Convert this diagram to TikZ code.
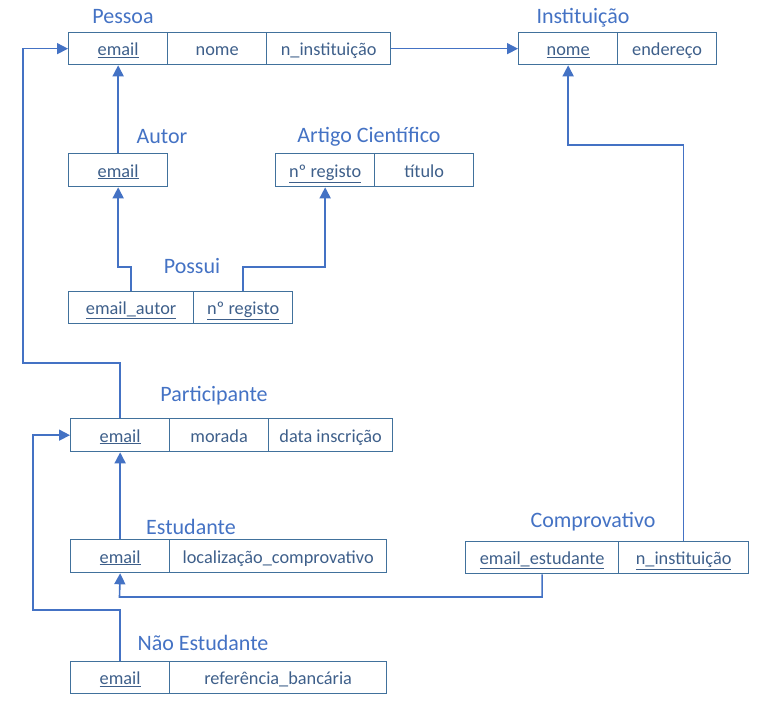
\documentclass[tikz,border=0pt]{standalone}
\usepackage{fontspec}
\setmainfont{Carlito}
\usetikzlibrary{arrows.meta}
\definecolor{linec}{HTML}{4472C4}
\definecolor{boxc}{HTML}{41719C}
\definecolor{txtc}{HTML}{3E5F8A}
\definecolor{titc}{HTML}{4472C4}
\tikzset{
  cell/.style={draw=boxc, line width=1.3pt, minimum height=32pt, inner sep=0pt,
    text height=16pt, text depth=2pt,
    anchor=north west, text=txtc, font=\fontsize{18.3}{20}\selectfont},
  ttl/.style={text=titc, font=\fontsize{22}{24}\selectfont, inner sep=0pt},
  arr/.style={draw=linec, line width=1.6pt, -{Triangle[width=11pt,length=11pt]}},
  ln/.style={draw=linec, line width=1.6pt}
}
\newcommand{\ul}[1]{\underline{#1}}
\begin{document}
\begin{tikzpicture}[x=1pt,y=-1pt]
\useasboundingbox (0,0) rectangle (769,705);
% Pessoa
\node[ttl] (tp) at (123,17) {Pessoa};
\node[cell,minimum width=99pt] (p1) at (68,32) {\ul{email}};
\node[cell,minimum width=99pt] (p2) at (167,32) {nome};
\node[cell,minimum width=124pt] (p3) at (266,32) {n\_instituição};
% Instituicao
\node[ttl] (ti) at (583,18) {Instituição};
\node[cell,minimum width=99pt] (i1) at (518,32) {\ul{nome}};
\node[cell,minimum width=99pt] (i2) at (617,32) {endereço};
% Autor
\node[ttl] (ta) at (162,137) {Autor};
\node[cell,minimum width=99pt,minimum height=33pt] (a1) at (68,153) {\ul{email}};
% Artigo
\node[ttl] (tc) at (369,137) {Artigo Científico};
\node[cell,minimum width=99pt,minimum height=33pt] (c1) at (275,153) {\ul{nº registo}};
\node[cell,minimum width=99pt,minimum height=33pt] (c2) at (374,153) {título};
% Possui
\node[ttl] (ts) at (192,266) {Possui};
\node[cell,minimum width=125pt] (s1) at (68,291) {\ul{email\_autor}};
\node[cell,minimum width=99pt] (s2) at (193,291) {\ul{nº registo}};
% Participante
\node[ttl] (tt) at (214,396) {Participante};
\node[cell,minimum width=99pt,minimum height=33pt] (t1) at (70,418) {\ul{email}};
\node[cell,minimum width=99pt,minimum height=33pt] (t2) at (169,418) {morada};
\node[cell,minimum width=124pt,minimum height=33pt] (t3) at (268,418) {data inscrição};
% Estudante
\node[ttl] (te) at (191,527) {Estudante};
\node[cell,minimum width=99pt,minimum height=33pt] (e1) at (70,539) {\ul{email}};
\node[cell,minimum width=217pt,minimum height=33pt] (e2) at (169,539) {localização\_comprovativo};
% Nao Estudante
\node[ttl] (tn) at (203,643) {Não Estudante};
\node[cell,minimum width=99pt] (n1) at (70,661) {\ul{email}};
\node[cell,minimum width=217pt] (n2) at (169,661) {referência\_bancária};
% Comprovativo
\node[ttl] (tv) at (593,522) {Comprovativo};
\node[cell,minimum width=153pt] (v1) at (465,541) {\ul{email\_estudante}};
\node[cell,minimum width=130pt] (v2) at (618,541) {\ul{n\_instituição}};
% bend points
\coordinate (bL) at (23,363);
\coordinate (bN) at (33,610);
\coordinate (bE) at (119.5,597);
% connectors
\draw[arr] (p3.east) -- (i1.west);
\draw[arr] (a1.north) -- (p1.south);
\draw[arr] (s1.north) -- ++(0,24pt) -| (a1.south);
\draw[arr] (s2.north) -- ++(0,24pt) -| (c1.south);
\draw[arr] (t1.north) |- (bL) |- (p1.west);
\draw[arr] (e1.north) -- (t1.south);
\draw[arr] (n1.north) |- (bN) |- (t1.west);
\draw[arr] (v1.south) |- (bE) -- (e1.south);
\draw[arr] (v2.north) -- ++(0,396pt) -| (i1.south);
\end{tikzpicture}
\end{document}
